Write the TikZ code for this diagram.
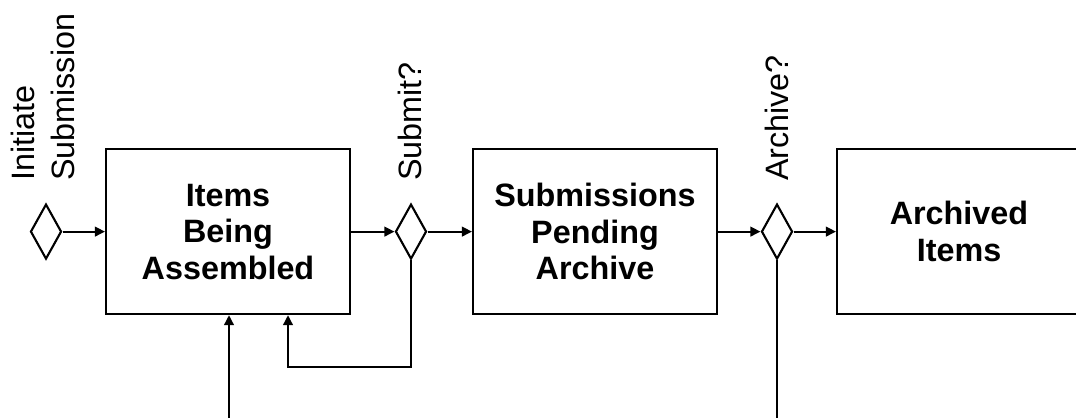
\documentclass[tikz,border=0pt]{standalone}
\usepackage{fontspec}
\setmainfont{Liberation Sans}
\usetikzlibrary{shapes.geometric,arrows.meta}
\begin{document}
\begin{tikzpicture}[line width=1.5pt, >={Triangle[length=0.25cm,width=0.24cm]},
  every node/.style={align=center},
  state/.style={draw, minimum width=6.1cm, minimum height=4.125cm, font=\fontsize{23}{26}\selectfont\bfseries},
  gate/.style={draw, diamond, minimum width=0.775cm, minimum height=1.375cm, inner sep=0pt},
  cond/.style={rotate=90, anchor=west, inner sep=0pt, align=left, font=\fontsize{23}{28}\selectfont}]
\useasboundingbox (0,0) rectangle (26.9,10.45);
\def\ym{4.66}
\def\yl{5.9}
% gates and states along the line
\node[gate] (initiate) at (1.15,\ym) {};
\node[state] (assembled) at (5.7,\ym) {Items\\Being\\Assembled};
\node[gate] (submit) at (10.275,\ym) {};
\node[state] (pending) at (14.875,\ym) {Submissions\\Pending\\Archive};
\node[gate] (archive) at (19.425,\ym) {};
\node[state] (archived) at (23.975,\ym) {Archived\\Items};
% gate labels
\node[cond] (initiatelbl) at (1.075,\yl) {Initiate\\Submission};
\node[cond] (submitlbl) at (10.26,\yl) {Submit?};
\node[cond] (archivelbl) at (19.425,\yl) {Archive?};
% flow
\draw[->] (initiate) -- (assembled);
\draw[->] (assembled) -- (submit);
\draw[->] (submit) -- (pending);
\draw[->] (pending) -- (archive);
\draw[->] (archive) -- (archived);
% loop back and free ends
\coordinate (loop) at (7.2,1.275);
\coordinate (feed) at (5.725,0);
\coordinate (drop) at (19.425,0);
\draw[->] (submit.south) |- (loop) -- (loop |- assembled.south);
\draw[->] (feed) -- (feed |- assembled.south);
\draw (archive.south) -- (drop);
\end{tikzpicture}
\end{document}
